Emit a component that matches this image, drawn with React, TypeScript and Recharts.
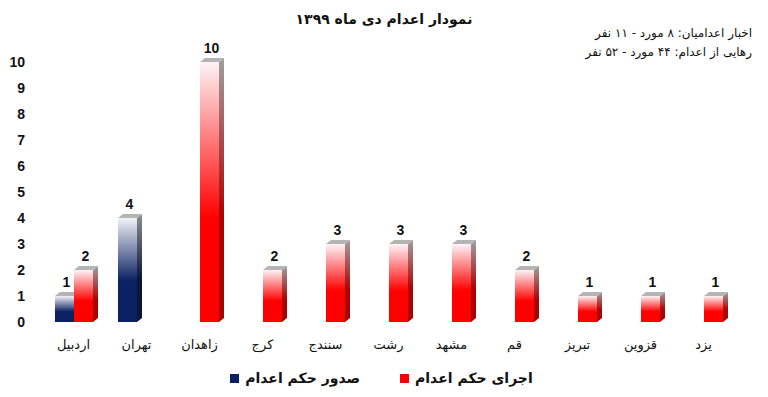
import React from 'react'
import { BarChart, Bar, XAxis, YAxis, Legend, LabelList } from 'recharts'

const cities = ['اردبیل', 'تهران', 'زاهدان', 'کرج', 'سنندج', 'رشت', 'مشهد', 'قم', 'تبریز', 'قزوین', 'یزد']
const issued = [1, 4, null, null, null, null, null, null, null, null, null]
const carriedOut = [2, null, 10, 2, 3, 3, 3, 2, 1, 1, 1]
const yTicks = [0, 1, 2, 3, 4, 5, 6, 7, 8, 9, 10]

const title = 'نمودار اعدام دی ماه ۱۳۹۹'
const note1 = 'اخبار اعدامیان: ۸ مورد - ۱۱ نفر'
const note2 = 'رهایی از اعدام: ۴۴ مورد - ۵۲ نفر'

const seriesInfo = [
    { key: 'issued', name: 'صدور حکم اعدام', color: '#0b2060', front: 'blueFront', side: 'blueSide' },
    { key: 'carriedOut', name: 'اجرای حکم اعدام', color: '#ff0000', front: 'redFront', side: 'redSide' },
]

const data = cities.map((city, i) => ({ city, issued: issued[i], carriedOut: carriedOut[i] }))

const D = 5 // depth of 3d side
const DY = 4

const make3d = (front: string, side: string) => (props: any) => {
    const { x, y, width, height } = props
    if (!height || height <= 0) return <g />
    return (
        <g>
            <rect x={x} y={y} width={width} height={height} fill={`url(#${front})`} />
            <polygon
                points={`${x + width},${y} ${x + width + D},${y - DY} ${x + width + D},${y + height - DY} ${x + width},${y + height}`}
                fill={`url(#${side})`}
            />
            <polygon
                points={`${x},${y} ${x + D},${y - DY} ${x + width + D},${y - DY} ${x + width},${y}`}
                fill="#b4b4b4"
            />
        </g>
    )
}

const valueLabel = (props: any) => {
    const { x, y, width, value } = props
    if (value == null) return null
    return (
        <text x={x + width / 2 + 2} y={y - DY - 5} textAnchor="middle" fontSize={14} fontWeight="bold" fill="#111"
            fontFamily="'Liberation Sans', Arial, sans-serif">
            {value}
        </text>
    )
}

const LegendBox = () => (
    <div style={{ display: 'flex', justifyContent: 'center', gap: 40, paddingLeft: 20, fontFamily: "'DejaVu Sans', sans-serif", fontSize: 14, fontWeight: 'bold', color: '#111' }}>
        {seriesInfo.map(s => (
            <div key={s.key} style={{ display: 'flex', alignItems: 'center', gap: 6 }}>
                <span style={{ width: 9, height: 9, background: s.color, display: 'inline-block' }} />
                <span dir="rtl">{s.name}</span>
            </div>
        ))}
    </div>
)

const App: React.FC = () => {
    return (
        <div style={{ position: 'relative', width: 752, height: 381 }}>
            <BarChart width={752} height={381} data={data} margin={{ top: 54, right: 25, bottom: 0, left: 0 }}
                barGap={0} barSize={19}>
                <defs>
                    <linearGradient id="redFront" x1="0" y1="0" x2="0" y2="1">
                        <stop offset="0" stopColor="#fdf4f7" />
                        <stop offset="0.6" stopColor="#ff0000" />
                        <stop offset="1" stopColor="#ff0000" />
                    </linearGradient>
                    <linearGradient id="redSide" x1="0" y1="0" x2="0" y2="1">
                        <stop offset="0" stopColor="#a0a0a0" />
                        <stop offset="0.6" stopColor="#b00000" />
                        <stop offset="1" stopColor="#aa0000" />
                    </linearGradient>
                    <linearGradient id="blueFront" x1="0" y1="0" x2="0" y2="1">
                        <stop offset="0" stopColor="#f2f3f8" />
                        <stop offset="0.6" stopColor="#0d2262" />
                        <stop offset="1" stopColor="#0b2060" />
                    </linearGradient>
                    <linearGradient id="blueSide" x1="0" y1="0" x2="0" y2="1">
                        <stop offset="0" stopColor="#909090" />
                        <stop offset="0.6" stopColor="#0a1640" />
                        <stop offset="1" stopColor="#081438" />
                    </linearGradient>
                </defs>
                <XAxis dataKey="city" axisLine={false} tickLine={false} tickSize={0} tickMargin={18} height={43}
                    interval={0}
                    tick={{ fontSize: 13, fill: '#111', fontFamily: "'DejaVu Sans', sans-serif" }} />
                <YAxis width={34} domain={[0, 10]} ticks={yTicks} interval={0} axisLine={false} tickLine={false}
                    tickSize={0} tickMargin={17}
                    tick={{ fontSize: 14, fontWeight: 'bold', fill: '#111', fontFamily: "'Liberation Sans', Arial, sans-serif" }} />
                <Legend verticalAlign="bottom" height={24} wrapperStyle={{ bottom: -5 }} content={<LegendBox />} />
                {seriesInfo.map(s => (
                    <Bar key={s.key} dataKey={s.key} name={s.name} fill={s.color} isAnimationActive={false}
                        shape={make3d(s.front, s.side)}>
                        <LabelList dataKey={s.key} content={valueLabel} />
                    </Bar>
                ))}
            </BarChart>
            <div dir="rtl" style={{ position: 'absolute', top: 1, left: 0, width: 752, textAlign: 'center', fontFamily: "'DejaVu Sans', sans-serif", fontSize: 14, fontWeight: 'bold', color: '#111', lineHeight: '20px' }}>
                {title}
            </div>
            <div dir="rtl" style={{ position: 'absolute', top: 16, right: 8, fontFamily: "'DejaVu Sans', sans-serif", fontSize: 12, color: '#111', lineHeight: '19px', textAlign: 'right' }}>
                <div>{note1}</div>
                <div>{note2}</div>
            </div>
        </div>
    )
}

export default App
